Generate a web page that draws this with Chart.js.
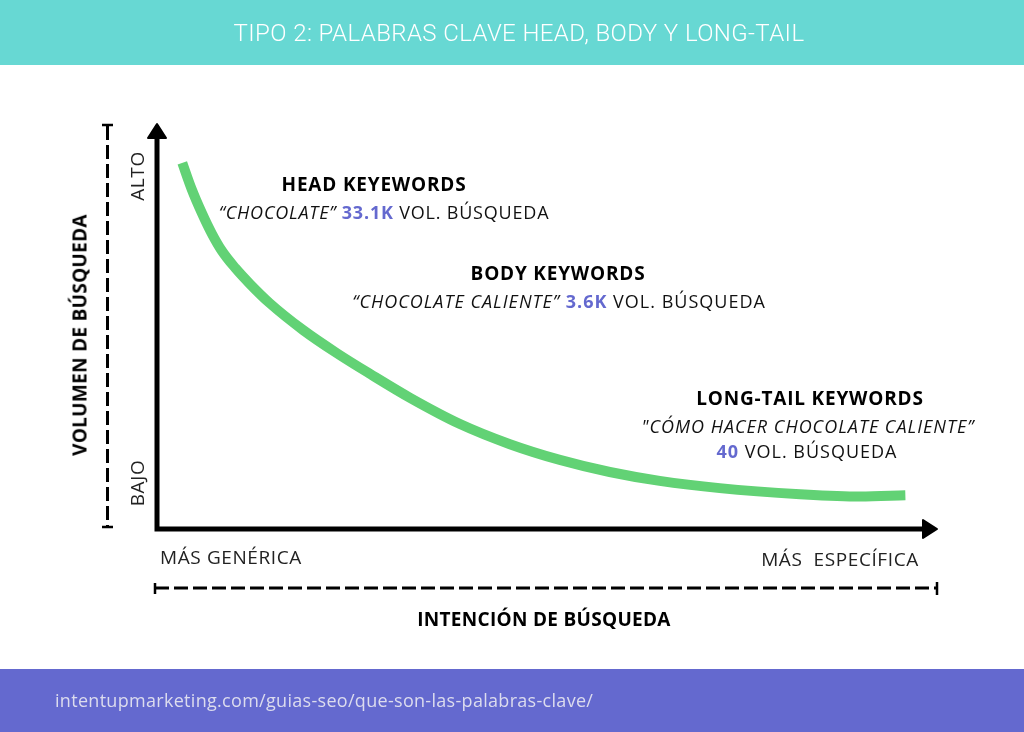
<!DOCTYPE html>
<html>
<head>
<meta charset="utf-8">
<script src="https://cdn.jsdelivr.net/npm/chart.js@4"></script>
<style>
  html, body { margin: 0; padding: 0; width: 1024px; height: 732px; overflow: hidden; background: #fff; }
  body { position: relative; font-family: "Open Sans", "Noto Sans", sans-serif; color: #111; }
  #header { position: absolute; left: 0; top: 0; width: 1024px; height: 65px; background: #67d8d3; }
  #footer { position: absolute; left: 0; top: 669px; width: 1024px; height: 63px; background: #6469cf; }
  #curve { position: absolute; left: 0; top: 0; }
  .lbl { position: absolute; white-space: pre; transform: translate(-50%, -50%); line-height: 1; }
  .rot { transform: translate(-50%, -50%) rotate(-90deg); }
  .title { font-family: Roboto, sans-serif; font-weight: 300; font-size: 24px; letter-spacing: 0.4px; color: #fff; }
  .source { transform: translate(0, -50%); font-size: 18px; letter-spacing: 0.3px; color: #dcdcee; }
  .kw { font-weight: 700; font-size: 19px; letter-spacing: 0.8px; color: #000; }
  .q { font-size: 18px; letter-spacing: 1px; color: #111; }
  .q.tight { letter-spacing: 0.8px; }
  .q i { font-style: italic; }
  .q b { color: #6469cf; font-weight: 700; }
  .end { font-size: 19px; letter-spacing: 0.6px; color: #222; }
  .axt { font-weight: 700; font-size: 19px; letter-spacing: 0.3px; color: #000; }
</style>
</head>
<body>
<div id="header"></div>
<div id="footer"></div>
<canvas id="curve" width="1024" height="732"></canvas>
<div id="labels"></div>
<script>
const titleText = "TIPO 2: PALABRAS CLAVE HEAD, BODY Y LONG-TAIL";
const sourceText = "intentupmarketing.com/guias-seo/que-son-las-palabras-clave/";
const yAxisTitle = "VOLUMEN DE BÚSQUEDA";
const xAxisTitle = "INTENCIÓN DE BÚSQUEDA";
const yEndLabels = ["BAJO", "ALTO"];
const xEndLabels = ["MÁS GENÉRICA", "MÁS  ESPECÍFICA"];
const keywordTypes = ["HEAD KEYEWORDS", "BODY KEYWORDS", "LONG-TAIL KEYWORDS"];
const keywordQueries = ["“CHOCOLATE”", "“CHOCOLATE CALIENTE”", "\"CÓMO HACER CHOCOLATE CALIENTE”"];
const keywordVolumes = ["33.1K", "3.6K", "40"];

// curve: intención (0 genérica .. 100 específica) vs volumen (0 bajo .. 100 alto)
const specificity = [3.5, 4.7, 6.0, 7.3, 8.6, 10.3, 12.2, 14.7, 19.0, 23.3, 27.6, 32.7, 39.1, 45.5, 51.9, 58.3, 64.7, 72.4, 82.7, 90.4, 96.2];
const searchVolume = [90.6, 84.1, 78.2, 73.0, 68.7, 64.5, 60.5, 55.8, 49.1, 43.4, 38.2, 32.3, 25.8, 20.8, 16.9, 13.9, 11.7, 9.9, 8.4, 7.8, 8.1];

// text placement (centre points in px)
const labels = document.getElementById("labels");
function addLabel(html, cls, x, y) {
    const d = document.createElement("div");
    d.className = "lbl " + cls;
    d.innerHTML = html;
    d.style.left = x + "px";
    d.style.top = y + "px";
    labels.appendChild(d);
    return d;
}

addLabel(titleText, "title", 519, 33);
addLabel(sourceText, "source", 55, 700);

const kwPos = [[374, 184], [558, 273], [810, 398]];
const qPos = [[384, 212], [559, 301], [808, 426]];
keywordTypes.forEach((t, i) => addLabel(t, "kw", kwPos[i][0], kwPos[i][1]));
addLabel(`<i>${keywordQueries[0]}</i> <b>${keywordVolumes[0]}</b> VOL. BÚSQUEDA`, "q tight", qPos[0][0], qPos[0][1]);
addLabel(`<i>${keywordQueries[1]}</i> <b>${keywordVolumes[1]}</b> VOL. BÚSQUEDA`, "q", qPos[1][0], qPos[1][1]);
addLabel(`<i>${keywordQueries[2]}</i>`, "q", qPos[2][0], qPos[2][1]);
addLabel(`<b>${keywordVolumes[2]}</b> VOL. BÚSQUEDA`, "q", 807, 451);

addLabel(yEndLabels[1], "end rot", 137, 176);
addLabel(yEndLabels[0], "end rot", 137, 483);
addLabel(yAxisTitle, "axt rot", 80, 335);
addLabel(xEndLabels[0], "end", 231, 557);
addLabel(xEndLabels[1], "end", 840, 559);
addLabel(xAxisTitle, "axt", 544, 619);

const axisArrows = {
    id: "axisArrows",
    beforeDatasetsDraw(chart) {
        const { ctx, scales: { x, y } } = chart;
        const x0 = x.getPixelForValue(0), x1 = x.getPixelForValue(100);
        const y0 = y.getPixelForValue(0), y1 = y.getPixelForValue(100);
        ctx.save();
        ctx.fillStyle = "#000";
        ctx.strokeStyle = "#000";

        // axis lines
        ctx.lineWidth = 5;
        ctx.beginPath();
        ctx.moveTo(x0 + 2, y0 + 3);
        ctx.lineTo(x0 + 2, y1 + 10);
        ctx.moveTo(x0 - 0.5, y0 + 1);
        ctx.lineTo(x1 - 8, y0 + 1);
        ctx.stroke();

        // arrow heads
        ctx.lineJoin = "round";
        ctx.lineWidth = 2;
        ctx.beginPath();
        ctx.moveTo(x0 + 2, y1 - 1);
        ctx.lineTo(x0 - 7, y1 + 13);
        ctx.lineTo(x0 + 11, y1 + 13);
        ctx.closePath();
        ctx.moveTo(x1 + 2, y0 + 1);
        ctx.lineTo(x1 - 12, y0 - 8);
        ctx.lineTo(x1 - 12, y0 + 10);
        ctx.closePath();
        ctx.fill();
        ctx.stroke();

        // dashed range brackets
        ctx.lineWidth = 3;
        ctx.setLineDash([14, 5]);
        ctx.beginPath();
        ctx.moveTo(107.5, y1 + 1);
        ctx.lineTo(107.5, y0 - 1);
        ctx.moveTo(x0, 588);
        ctx.lineTo(x1 + 2, 588);
        ctx.stroke();
        ctx.setLineDash([]);
        ctx.lineWidth = 2.5;
        ctx.beginPath();
        ctx.moveTo(102, y1); ctx.lineTo(113, y1);
        ctx.moveTo(102, y0 - 1); ctx.lineTo(113, y0 - 1);
        ctx.moveTo(x0, 583); ctx.lineTo(x0, 594);
        ctx.moveTo(x1 + 2, 582); ctx.lineTo(x1 + 2, 595);
        ctx.stroke();
        ctx.restore();
    }
};

new Chart(document.getElementById("curve"), {
    type: "line",
    data: {
        datasets: [{
            data: specificity.map((v, i) => ({ x: v, y: searchVolume[i] })),
            borderColor: "#62d275",
            borderWidth: 10,
            borderCapStyle: "butt",
            pointRadius: 0,
            cubicInterpolationMode: "monotone",
            fill: false,
            clip: false
        }]
    },
    options: {
        responsive: false,
        animation: false,
        events: [],
        layout: { padding: { left: 155, right: 89, top: 125, bottom: 204 } },
        scales: {
            x: { type: "linear", min: 0, max: 100, display: false },
            y: { min: 0, max: 100, display: false }
        },
        plugins: {
            legend: { display: false },
            tooltip: { enabled: false }
        }
    },
    plugins: [axisArrows]
});
</script>
</body>
</html>
